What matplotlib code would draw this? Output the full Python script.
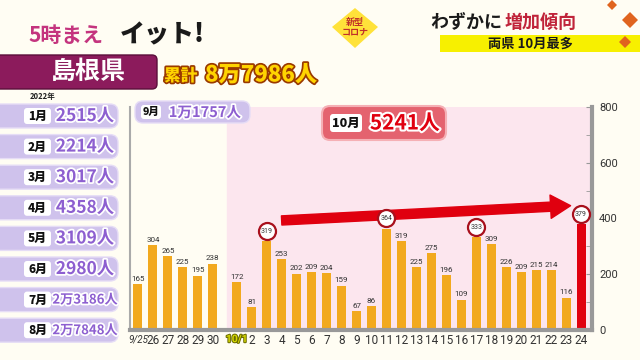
import matplotlib
matplotlib.use("Agg")
import matplotlib.pyplot as plt
import matplotlib.patheffects as pe
from matplotlib.patches import FancyBboxPatch, Polygon, Rectangle
from matplotlib.ticker import MultipleLocator
import numpy as np

plt.rcParams['font.family'] = ['Noto Sans CJK JP', 'DejaVu Sans']
NARROW = ['Roboto', 'DejaVu Sans']

# データ (島根県 新規感染者数)
sep_days = ['9/25', '26', '27', '28', '29', '30']
sep_cases = [165, 304, 265, 225, 195, 238]
oct_days = ['10/1', '2', '3', '4', '5', '6', '7', '8', '9', '10', '11', '12',
            '13', '14', '15', '16', '17', '18', '19', '20', '21', '22', '23', '24']
oct_cases = [172, 81, 319, 253, 202, 209, 204, 159, 67, 86, 364, 319,
             225, 275, 196, 109, 333, 309, 226, 209, 215, 214, 116, 379]
circled_days = ['3', '11', '17', '24']

months = ['1月', '2月', '3月', '4月', '5月', '6月', '7月', '8月']
month_totals = ['2515人', '2214人', '3017人', '4358人', '3109人', '2980人', '2万3186人', '2万7848人']
sep_total = '1万1757人'
oct_total = '5241人'
cumulative = '8万7986人'

ORANGE = '#f2a91e'
RED = '#e0000f'
DARKRED = '#a8101c'
PURPLE = '#8d5fd0'
LAVENDER = '#cfc2ec'

fig = plt.figure(figsize=(6.4, 3.6), dpi=100)
fig.patch.set_facecolor('#fffdf3')

# グラフ本体
ax = fig.add_axes([130 / 640, 30 / 360, 462 / 640, 223 / 360], zorder=1)
ax.patch.set_alpha(0)
x_sep = np.arange(len(sep_days))
x_oct = 6.6 + np.arange(len(oct_days))
ax.set_xlim(-0.53, x_oct[-1] + 0.73)
ax.set_ylim(0, 800)
ax.axvspan(x_oct[0] - 0.67, x_oct[-1] + 0.73, color='#fce6ee', zorder=0)

ax.bar(x_sep, sep_cases, width=0.6, color=ORANGE, zorder=2)
oct_colors = [ORANGE] * (len(oct_cases) - 1) + [RED]
ax.bar(x_oct, oct_cases, width=0.6, color=oct_colors, zorder=2)

for x, v in zip(x_sep, sep_cases):
    ax.text(x, v + 8, str(v), ha='center', va='bottom', fontsize=5.8,
            color='#333333', family=NARROW)
for x, d, v in zip(x_oct, oct_days, oct_cases):
    if d in circled_days:
        ax.scatter([x], [v + 36], s=150, facecolor='white', edgecolor=DARKRED,
                   linewidth=1.6, zorder=4)
        ax.text(x, v + 36, str(v), ha='center', va='center', fontsize=5,
                color='#333333', zorder=5, family=NARROW)
    else:
        ax.text(x, v + 8, str(v), ha='center', va='bottom', fontsize=5.8,
                color='#333333', family=NARROW)

# 増加傾向の矢印
ax.annotate('', xy=(28.9, 446), xytext=(9.6, 393),
            arrowprops=dict(arrowstyle='simple,tail_width=0.55,head_width=1.4,head_length=1.2',
                            color=RED, mutation_scale=12, shrinkA=0, shrinkB=0), zorder=3)

ax.set_xticks(np.concatenate([x_sep, x_oct]))
ax.set_xticklabels(sep_days + oct_days, family=NARROW, fontsize=8.5, color='#333333')
ax.tick_params(axis='x', length=0, pad=3)
ticklabels = ax.get_xticklabels()
ticklabels[0].set_fontsize(7)
ticklabels[0].set_fontstyle('italic')
lbl = ticklabels[len(sep_days)]
lbl.set_fontsize(7.5)
lbl.set_fontweight('bold')
lbl.set_color('#d6d800')
lbl.set_path_effects([pe.withStroke(linewidth=1.5, foreground='#6b6b00')])

ax.yaxis.tick_right()
ax.yaxis.set_major_locator(MultipleLocator(200))
ax.yaxis.set_minor_locator(MultipleLocator(100))
ax.tick_params(axis='y', which='both', direction='in', length=4, color='#999999',
               labelsize=8, labelcolor='#333333', pad=5)
for t in ax.get_yticklabels():
    t.set_family(NARROW)
ax.spines['top'].set_visible(False)
ax.spines['left'].set_color('#aaaaaa')
ax.spines['left'].set_linewidth(1.5)
ax.spines['bottom'].set_color('#999999')
ax.spines['bottom'].set_linewidth(3)
ax.spines['right'].set_color('#999999')
ax.spines['right'].set_linewidth(3)

# 装飾レイヤー (ピクセル座標)
ov = fig.add_axes([0, 0, 1, 1], zorder=2)
ov.patch.set_alpha(0)
ov.set_xlim(0, 640)
ov.set_ylim(360, 0)
ov.axis('off')

white_edge = [pe.withStroke(linewidth=2.5, foreground='white')]

ov.text(28, 35, '5時まえ', fontsize=15, fontweight='bold', color='#c4347e', va='center')
ov.text(120, 34, 'イット!', fontsize=18, fontweight='black', color='#1a1a1a', va='center')

ov.add_patch(FancyBboxPatch((-10, 55), 167, 34, boxstyle='round,pad=0,rounding_size=5',
                            fc='#8c1b5c', ec='#5a0f3a', lw=1))
ov.text(88, 72, '島根県', fontsize=18, fontweight='bold', color='white', ha='center', va='center')
ov.text(164, 76, '累計', fontsize=12, fontweight='black', color='#ffd400', va='center',
        path_effects=[pe.withStroke(linewidth=2.5, foreground='#9a3a00')])
ov.text(205, 75, cumulative, fontsize=16, fontweight='black', color='#ffd400', va='center',
        path_effects=[pe.withStroke(linewidth=2.5, foreground='#9a3a00')])

# 右上見出し
ov.add_patch(Polygon([[355, 8], [378, 27], [355, 48], [332, 27]], closed=True, fc='#ffe23a', ec='none'))
ov.text(355, 22, '新型', fontsize=6.5, color='#c0302a', ha='center', va='center', fontweight='bold')
ov.text(355, 32, 'コロナ', fontsize=6.5, color='#c0302a', ha='center', va='center', fontweight='bold')
ov.text(430, 22, 'わずかに', fontsize=13, fontweight='bold', color='#1a1a1a', va='center')
ov.text(505, 22, '増加傾向', fontsize=13, fontweight='bold', color='#c0243a', va='center')
ov.add_patch(Rectangle((440, 35), 200, 17, fc='#f7f000', ec='none'))
ov.text(530, 44, '両県 10月最多', fontsize=9.5, fontweight='bold', color='#1a1a1a',
        ha='center', va='center')
for cx, cy, r in [(612, 5, 5), (630, 20, 8), (625, 42, 6)]:
    ov.add_patch(Polygon([[cx, cy - r], [cx + r, cy], [cx, cy + r], [cx - r, cy]],
                         closed=True, fc='#e0641e', ec='none'))

# 月別累計
ov.text(30, 97, '2022年', fontsize=5.5, fontweight='bold', color='#222222', va='center')
for i, (m, t) in enumerate(zip(months, month_totals)):
    cy = 116 + i * 30.6
    ov.add_patch(FancyBboxPatch((-10, cy - 12), 128, 24, boxstyle='round,pad=0,rounding_size=8',
                                fc=LAVENDER, ec='#e6ddf6', lw=1))
    ov.add_patch(FancyBboxPatch((24, cy - 8), 27, 16, boxstyle='round,pad=0,rounding_size=3',
                                fc='white', ec='none'))
    ov.text(37.5, cy, m, fontsize=8.5, fontweight='black', color='#111111',
            ha='center', va='center')
    fs = 12.5 if '万' not in t else 9.5
    ov.text(85, cy, t, fontsize=fs, fontweight='bold', color=PURPLE, ha='center',
            va='center', path_effects=white_edge)

ov.add_patch(FancyBboxPatch((135, 101), 115, 22, boxstyle='round,pad=0,rounding_size=8',
                            fc=LAVENDER, ec='#e6ddf6', lw=1))
ov.add_patch(FancyBboxPatch((141, 105), 20, 14, boxstyle='round,pad=0,rounding_size=3',
                            fc='white', ec='none'))
ov.text(151, 112, '9月', fontsize=7.5, fontweight='black', color='#111111', ha='center', va='center')
ov.text(205, 112, sep_total, fontsize=10.5, fontweight='bold', color=PURPLE, ha='center',
        va='center', path_effects=white_edge)

ov.add_patch(FancyBboxPatch((322, 106), 124, 34, boxstyle='round,pad=0,rounding_size=8',
                            fc='#e4636f', ec='#f5b0b5', lw=1.5))
ov.add_patch(FancyBboxPatch((330, 114), 32, 18, boxstyle='round,pad=0,rounding_size=3',
                            fc='white', ec='none'))
ov.text(346, 123, '10月', fontsize=9, fontweight='black', color='#111111', ha='center', va='center')
ov.text(405, 123, oct_total, fontsize=15, fontweight='bold', color=RED, ha='center',
        va='center', path_effects=[pe.withStroke(linewidth=3, foreground='white')])

fig.savefig('out.png', dpi=100, facecolor=fig.get_facecolor())
